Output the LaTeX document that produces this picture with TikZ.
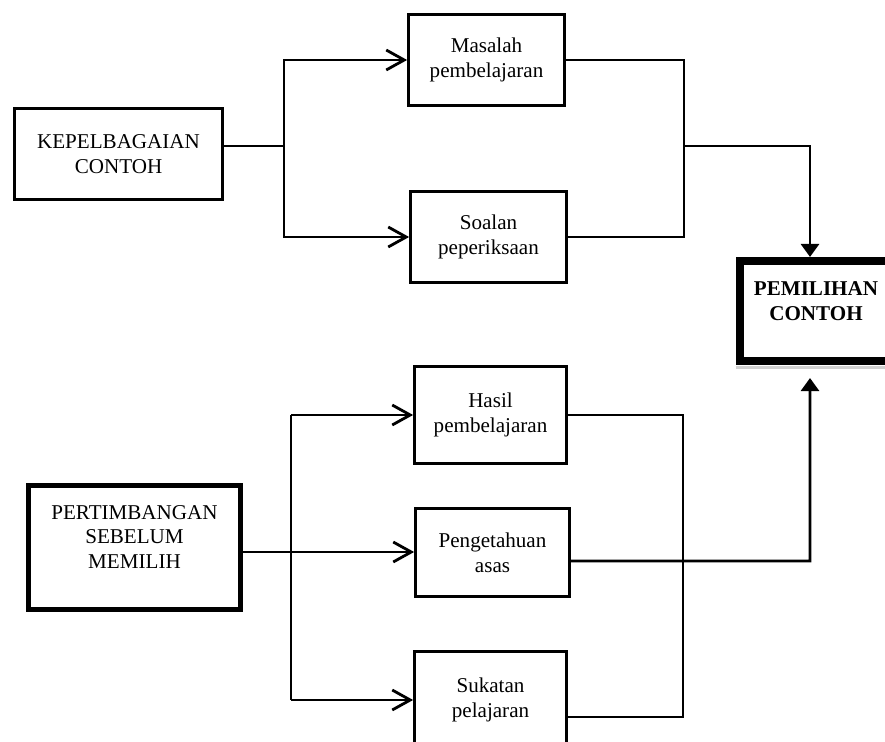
\documentclass[tikz,border=0pt]{standalone}
\usepackage{fontspec}
\setmainfont{Liberation Serif}
\usetikzlibrary{arrows.meta, positioning, calc}
\tikzset{
  box/.style={draw, line width=1.6pt, align=center, inner sep=2pt,
    font=\fontsize{12}{14.2}\selectfont},
  heavybox/.style={box, line width=#1},
  link/.style={line width=1.6pt},
  arr/.style={link, -{Straight Barb[length=3.6mm, width=4mm, line width=1.6pt]}},
  tri/.style={link, -{Triangle[length=2.6mm, width=3.6mm]}},
}

\begin{document}
\begin{tikzpicture}[x=0.02cm, y=-0.02cm]
  \useasboundingbox (0,0) rectangle (885,742);
  \clip (0,0) rectangle (885,742);
  % left boxes
  \node[box, minimum width=4.16cm, minimum height=1.82cm] (kep) at (118.5,154) {KEPELBAGAIAN\\CONTOH};
  \node[heavybox=2.8pt, minimum width=4.24cm, minimum height=2.48cm, text depth=0.42cm] (pertim) at (134.5,547.5) {PERTIMBANGAN\\SEBELUM\\MEMILIH};
  % middle boxes
  \node[box, minimum width=3.12cm, minimum height=1.82cm] (masalah) at (486.5,60) {Masalah\\pembelajaran};
  \node[box, minimum width=3.12cm, minimum height=1.82cm] (soalan) at (488.5,237) {Soalan\\peperiksaan};
  \node[box, minimum width=3.04cm, minimum height=1.94cm] (hasil) at (490.5,415) {Hasil\\pembelajaran};
  \node[box, minimum width=3.08cm, minimum height=1.76cm] (penget) at (492.5,552.5) {Pengetahuan\\asas};
  \node[box, minimum width=3.04cm, minimum height=1.94cm] (sukatan) at (490.5,700) {Sukatan\\pelajaran};
  % goal box
  \node[heavybox=4.6pt, minimum width=3.04cm, minimum height=2cm, text depth=0.38cm,
    font=\fontsize{12}{14.2}\selectfont\bfseries] (pemilihan) at (816,311) {PEMILIHAN\\CONTOH};
  \draw[black!18, line width=0.06cm] ([yshift=-0.05cm]pemilihan.south west) -- ([yshift=-0.05cm]pemilihan.south east);

  % upper branch
  \coordinate (spl1) at (284,146);
  \coordinate (jn1) at (684,146);
  \coordinate (bend1) at (810,146);
  \draw[link] (kep.east |- spl1) -- (spl1);
  \draw[arr] (spl1) |- (masalah.west);
  \draw[arr] (spl1) |- (soalan.west);
  \draw[link] (masalah.east) -| (jn1);
  \draw[link] (soalan.east) -| (jn1);
  \draw[tri] (jn1) -- (bend1) -- (bend1 |- pemilihan.north);

  % lower branch
  \coordinate (spl2) at (291,552);
  \coordinate (jn2) at (683,415);
  \coordinate (sukout) at ($(sukatan.east)+(0,17)$);
  \coordinate (penout) at ($(penget.east)+(0,8.5)$);
  \coordinate (bend2) at (810,561);
  \draw[arr] (pertim.east |- spl2) -- (penget.west |- spl2);
  \draw[link] (spl2 |- hasil.west) -- (spl2 |- sukatan.west);
  \draw[arr] (spl2 |- hasil.west) -- (hasil.west);
  \draw[arr] (spl2 |- sukatan.west) -- (sukatan.west);
  \draw[link] (hasil.east) -- (jn2) -- (jn2 |- sukout) -- (sukout);
  \draw[tri, shorten >=2.6mm] (penout) -- (bend2) -- (bend2 |- pemilihan.south);
\end{tikzpicture}
\end{document}
